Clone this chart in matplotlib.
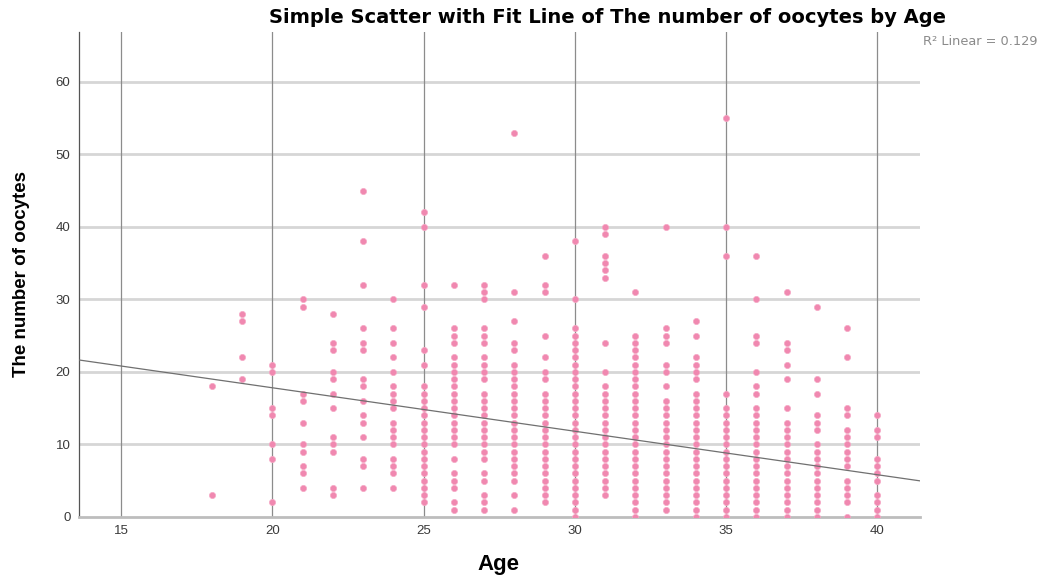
import numpy as np
import matplotlib
matplotlib.use("Agg")
import matplotlib.pyplot as plt

plt.rcParams['font.family'] = ['Liberation Sans', 'DejaVu Sans']

# oocyte counts read per age (one entry per visible point)
ages = list(range(18, 41))
oocytes = {
    18: [18, 3],
    19: [28, 27, 22, 19],
    20: [21, 20, 15, 14, 10, 8, 2],
    21: [30, 29, 17, 16, 13, 10, 9, 7, 6, 4],
    22: [28, 24, 23, 20, 19, 17, 15, 11, 10, 9, 4, 3],
    23: [45, 38, 32, 26, 24, 23, 19, 18, 16, 14, 13, 11, 8, 7, 4],
    24: [30, 26, 24, 22, 20, 18, 17, 16, 15, 13, 12, 11, 10, 8, 7, 6, 4],
    25: [42, 40, 32, 29, 23, 21, 18, 17, 16, 15, 14, 13, 12, 11, 10, 9, 8, 7, 6, 5, 4, 3, 2],
    26: [32, 26, 25, 24, 22, 21, 20, 19, 18, 17, 16, 15, 14, 13, 12, 11, 10, 8, 6, 5, 4, 2, 1],
    27: [32, 31, 30, 26, 25, 24, 22, 21, 20, 19, 17, 16, 15, 14, 13, 12, 11, 10, 9, 8, 6, 5, 3, 2, 1],
    28: [53, 31, 27, 24, 23, 21, 20, 19, 18, 17, 16, 15, 14, 13, 12, 11, 10, 9, 8, 7, 6, 5, 3, 1],
    29: [36, 32, 31, 25, 22, 20, 19, 17, 16, 15, 14, 13, 12, 11, 10, 9, 8, 7, 6, 5, 4, 3, 2],
    30: [38, 30, 26, 25, 24, 23, 22, 21, 20, 19, 18, 17, 16, 15, 14, 13, 12, 11, 10, 9, 8, 7, 6, 5, 4, 3, 2, 1, 0],
    31: [40, 39, 36, 35, 34, 33, 24, 20, 18, 17, 16, 15, 14, 13, 12, 11, 10, 9, 8, 7, 6, 5, 4, 3],
    32: [31, 25, 24, 23, 22, 21, 20, 19, 18, 17, 16, 15, 14, 13, 12, 11, 10, 9, 8, 7, 6, 5, 4, 3, 2, 1, 0],
    33: [40, 26, 25, 24, 21, 20, 18, 16, 15, 14, 13, 12, 11, 10, 9, 8, 7, 6, 5, 4, 3, 2, 1],
    34: [27, 25, 22, 21, 20, 19, 17, 16, 15, 14, 13, 12, 11, 10, 9, 8, 7, 6, 5, 4, 3, 2, 1, 0],
    35: [55, 40, 36, 17, 15, 14, 13, 12, 11, 10, 9, 8, 7, 6, 5, 4, 3, 2, 1, 0],
    36: [36, 30, 25, 24, 20, 18, 17, 15, 14, 13, 12, 11, 10, 9, 8, 7, 6, 5, 4, 3, 2, 1, 0],
    37: [31, 24, 23, 21, 19, 15, 13, 12, 11, 10, 9, 8, 7, 6, 5, 4, 3, 2, 1, 0],
    38: [29, 19, 17, 14, 13, 12, 10, 9, 8, 7, 6, 5, 4, 3, 2, 1, 0],
    39: [26, 22, 15, 14, 12, 11, 10, 9, 8, 7, 5, 4, 3, 2, 0],
    40: [14, 12, 11, 8, 7, 6, 5, 3, 2, 1, 0],
}
# fit line as shown in the chart
fit_intercept = 29.8
fit_slope = -0.60
r2_label = "R\u00b2 Linear = 0.129"

x_ticks = [15, 20, 25, 30, 35, 40]
y_ticks = [0, 10, 20, 30, 40, 50, 60]

xs = []
ys = []
for a in ages:
    for v in oocytes[a]:
        xs.append(a)
        ys.append(v)

fig = plt.figure(figsize=(10.5, 5.8), dpi=100)
ax = fig.add_axes([0.075, 0.109, 0.801, 0.836])
ax.set_xlim(13.6, 41.4)
ax.set_ylim(0, 66.9)

for t in y_ticks[1:]:
    ax.axhline(t, color='#d6d6d6', lw=2, zorder=1)
for t in x_ticks:
    ax.axvline(t, color='#8c8c8c', lw=0.9, zorder=1)

ax.scatter(xs, ys, s=20, color='#f088b0', edgecolors='#f6a9c6', linewidths=0.5, zorder=3)

fx = np.array(ax.get_xlim())
ax.plot(fx, fit_intercept + fit_slope * fx, color='#707070', lw=0.9, zorder=4)

ax.set_xticks(x_ticks)
ax.set_yticks(y_ticks)
ax.tick_params(length=0, labelsize=9.5, colors='#3a3a3a', pad=6)
for s in ['top', 'right']:
    ax.spines[s].set_visible(False)
ax.spines['bottom'].set_color('#bdbdbd')
ax.spines['bottom'].set_linewidth(2)
ax.spines['left'].set_color('#555555')
ax.spines['left'].set_linewidth(0.9)

ax.set_xlabel('Age', fontsize=16, fontweight='bold', va='center')
ax.xaxis.set_label_coords(0.499, -0.099)
ax.set_ylabel('The number of oocytes', fontsize=13.5, fontweight='bold', va='center')
ax.yaxis.set_label_coords(-0.068, 0.5)
fig.text(0.5786, 0.969, 'Simple Scatter with Fit Line of The number of oocytes by Age',
         ha='center', va='center', fontsize=14, fontweight='bold', family=['DejaVu Sans'])
fig.text(0.879, 0.928, r2_label, ha='left', va='center', fontsize=9.3, color='#8a8a8a',
         family=['DejaVu Sans'])

fig.savefig('out.png', dpi=100)
